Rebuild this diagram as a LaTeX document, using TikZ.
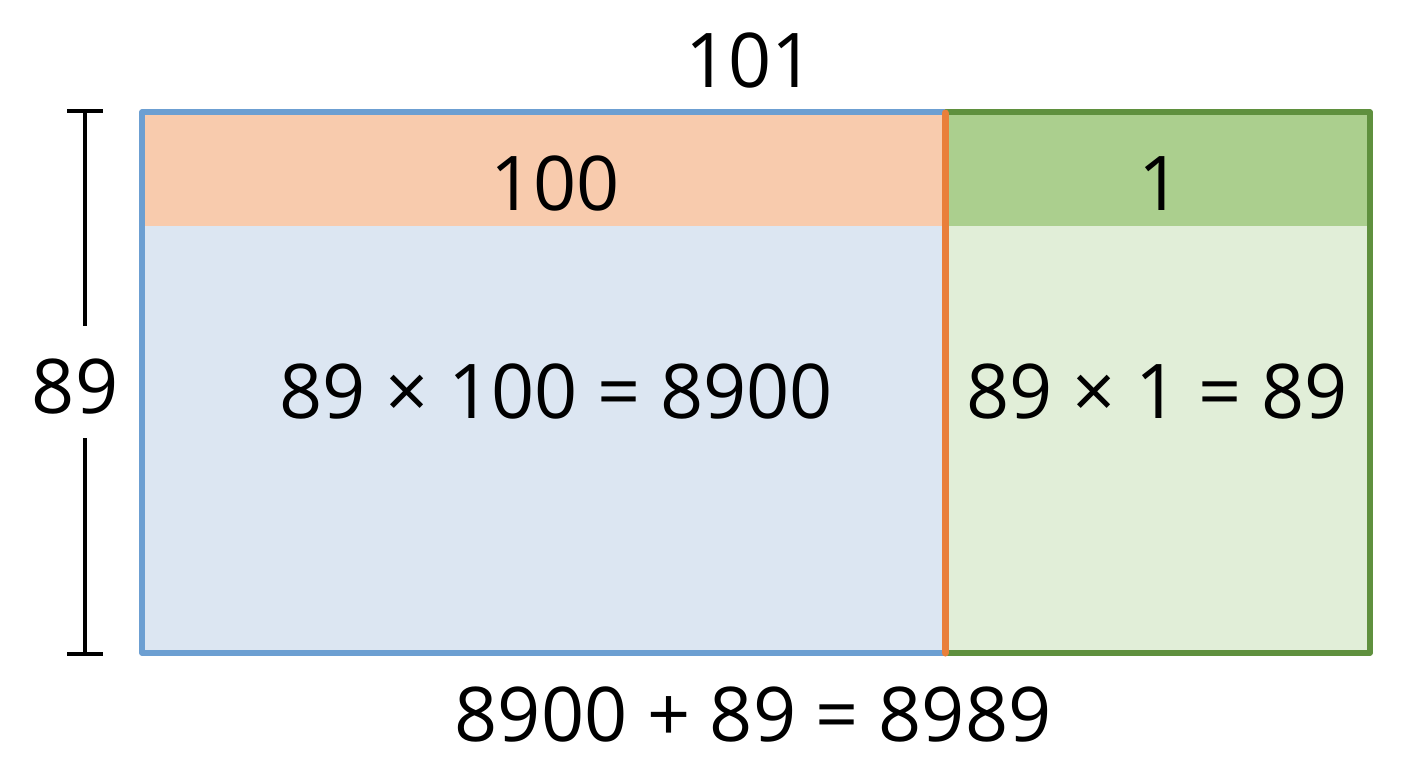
\documentclass[tikz,border=0pt]{standalone}
\usepackage{fontspec}
\setmainfont{Open Sans}
\definecolor{orangefill}{HTML}{F8CBAD}
\definecolor{bluefill}{HTML}{DCE6F2}
\definecolor{greendark}{HTML}{ABCF8E}
\definecolor{greenlight}{HTML}{E1EED8}
\definecolor{blueedge}{HTML}{6C9FD2}
\definecolor{greenedge}{HTML}{5F903E}
\definecolor{orangeedge}{HTML}{E97F3A}
\tikzset{
  bigtext/.style={font=\fontsize{75.5}{90}\selectfont, text=black, inner sep=0pt, anchor=base},
  bracketline/.style={draw=black, line width=4pt},
}
\begin{document}
\begin{tikzpicture}[x=1pt,y=-1pt]
\useasboundingbox (0,0) rectangle (1408,768);
% regions
\fill[bluefill] (142,226) rectangle (945,653);
\fill[orangefill] (142,112) rectangle (945,226);
\fill[greenlight] (945,226) rectangle (1370,653);
\fill[greendark] (945,112) rectangle (1370,226);
% borders
\draw[blueedge, line width=5.5pt, line join=round] (945,112) -- (142,112) -- (142,653) -- (945,653);
\draw[greenedge, line width=5.5pt, line join=round] (945,112) -- (1370,112) -- (1370,653) -- (945,653);
\draw[orangeedge, line width=7pt, line cap=round] (945,113) -- (945,653);
% texts
\node[bigtext] (top) at (750,88) {101};
\node[bigtext] (h1) at (555,210) {100};
\node[bigtext] (h2) at (1160,210) {1};
\node[bigtext] (left) at (75,413) {89};
\node[bigtext] (a1) at (556,418) {89 × 100 = 8900};
\node[bigtext] (a2) at (1157,418) {89 × 1 = 89};
\node[bigtext] (sum) at (753,741) {8900 + 89 = 8989};
% bracket
\coordinate (bt) at (85,111);
\coordinate (bb) at (85,654);
\coordinate (bu) at (85,326);
\coordinate (bl) at (85,438);
\draw[bracketline] (bt) -- (bu);
\draw[bracketline] (bl) -- (bb);
\draw[bracketline] ([xshift=-18pt]bt) -- ([xshift=18pt]bt);
\draw[bracketline] ([xshift=-18pt]bb) -- ([xshift=18pt]bb);
\end{tikzpicture}
\end{document}
